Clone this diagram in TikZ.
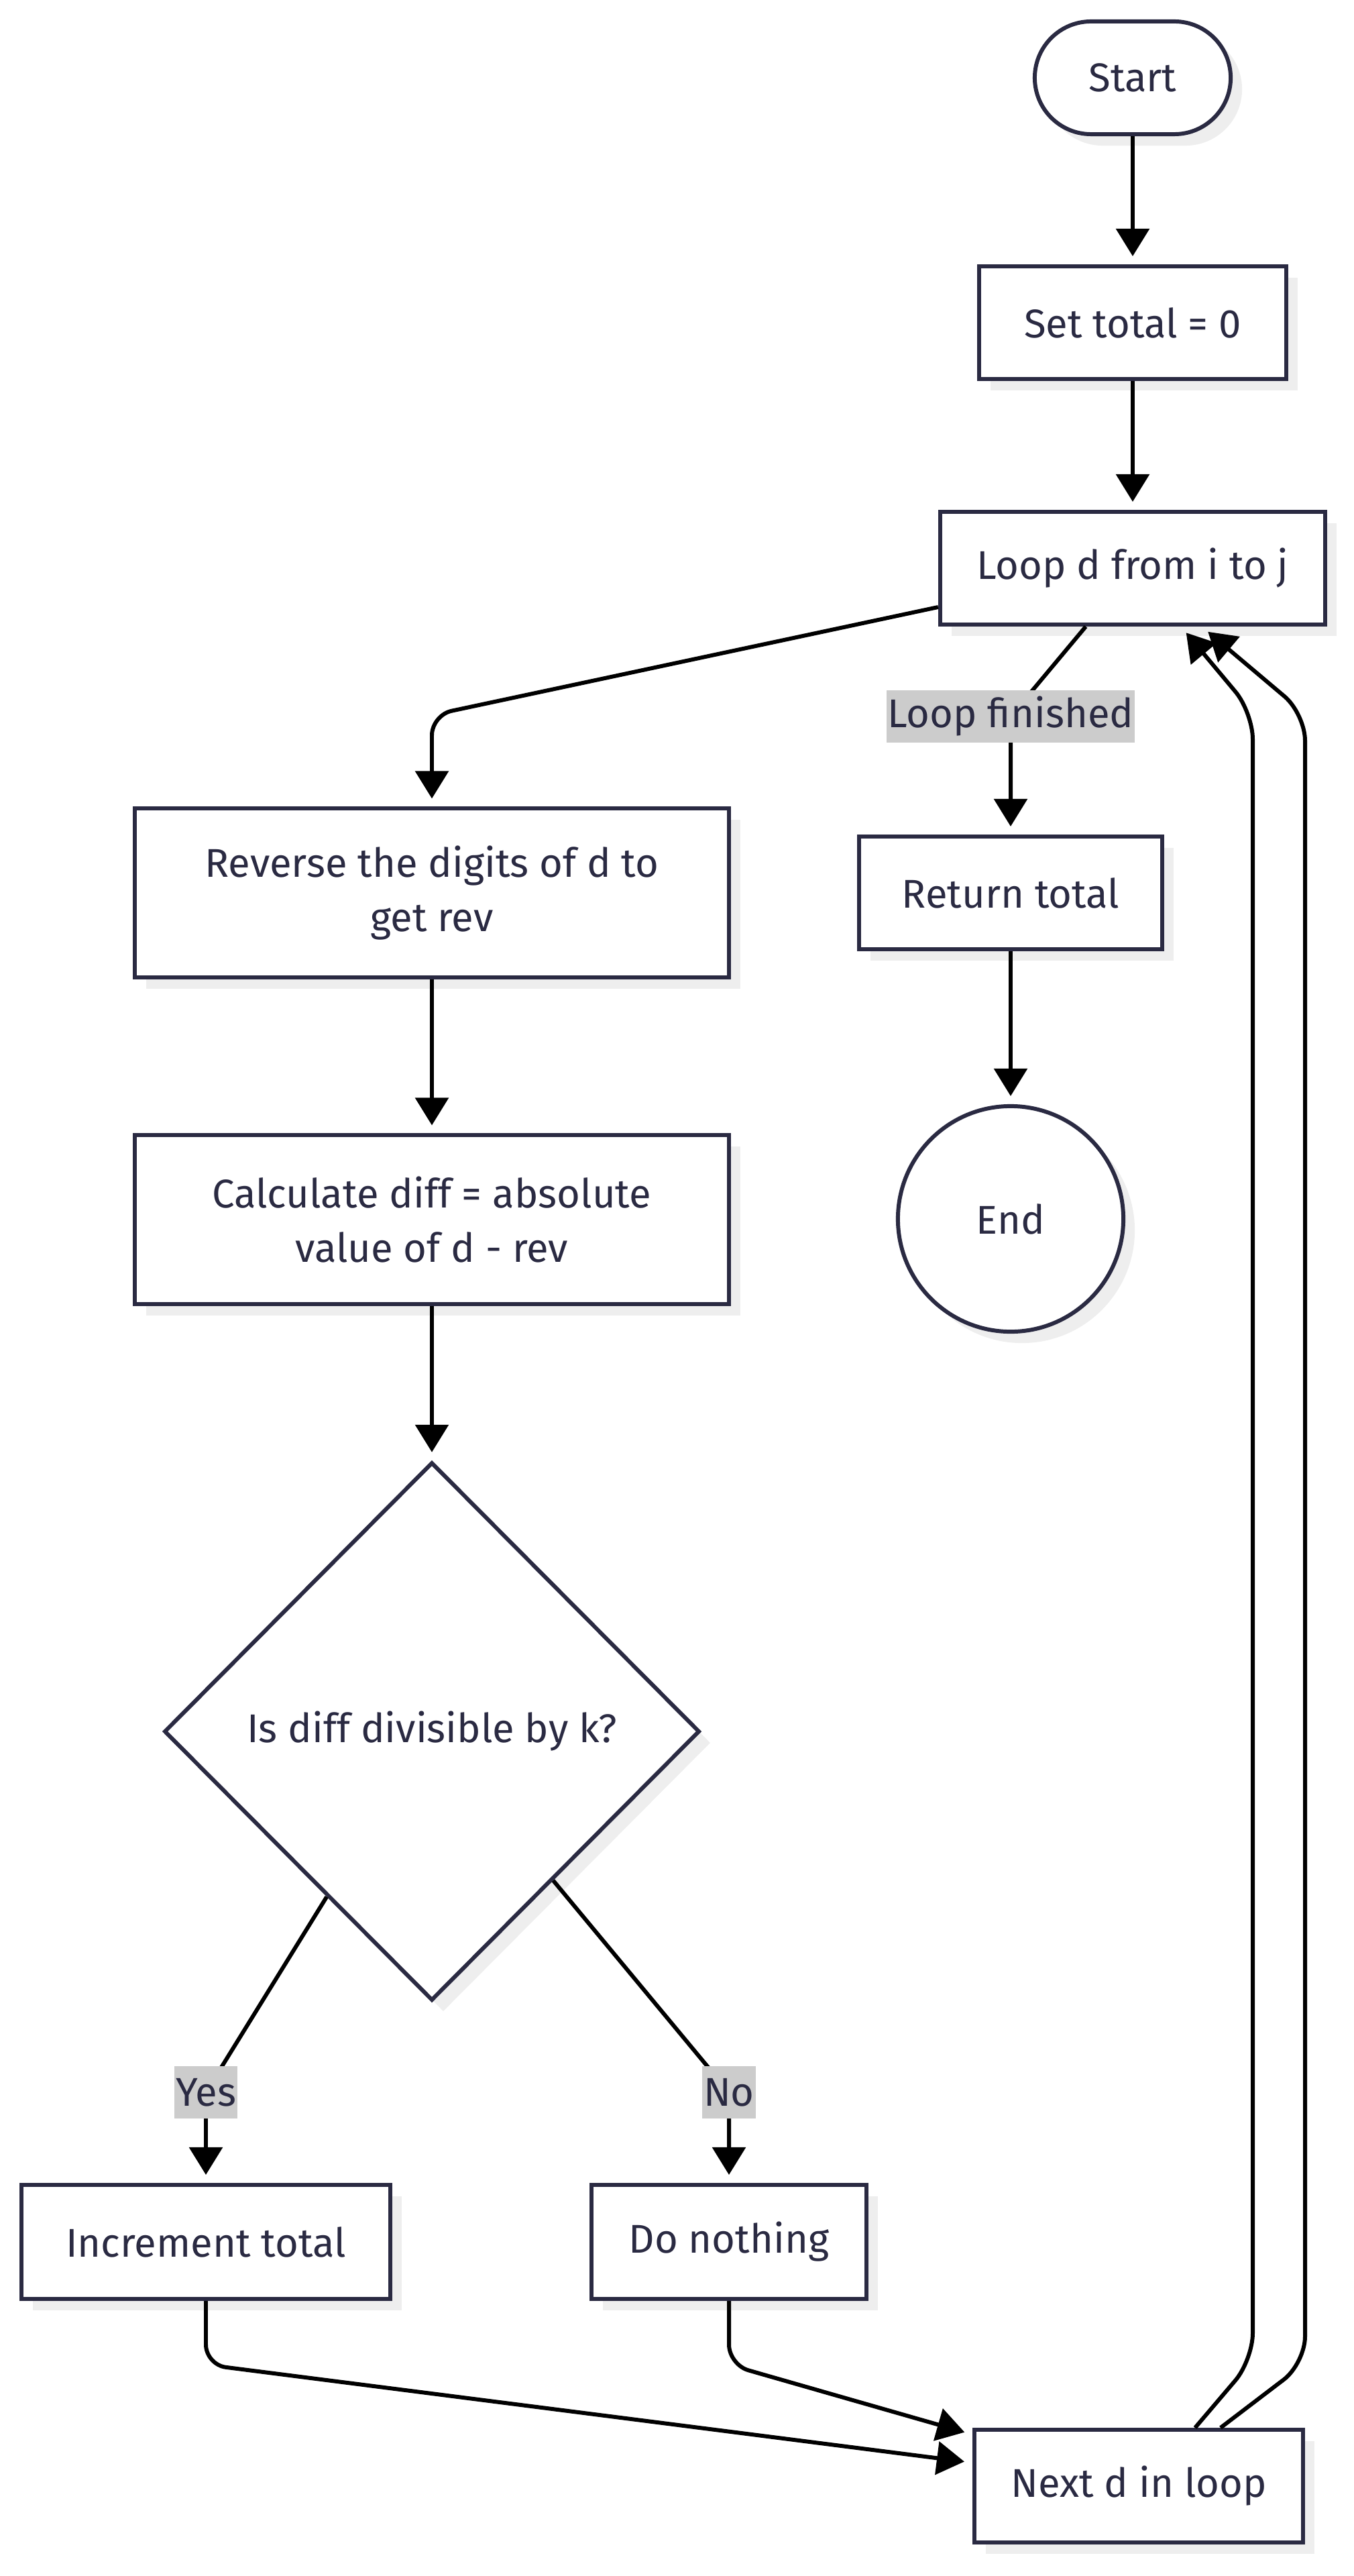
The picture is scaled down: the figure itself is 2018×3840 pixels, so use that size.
\documentclass[tikz,border=0pt]{standalone}
\usepackage{fontspec}
\setmainfont{Fira Sans}
\usetikzlibrary{arrows.meta,shapes.geometric,calc}
\definecolor{ink}{HTML}{2A2A42}
\definecolor{shade}{HTML}{EEEEEE}
\definecolor{lblbg}{HTML}{CCCCCC}
\tikzset{
  shadowed/.style={preaction={draw=none,fill=shade,transform canvas={xshift=0.17cm,yshift=-0.17cm}}},
  box/.style={draw=ink,line width=1.7pt,fill=white,text=ink,inner sep=0pt,align=center,
     font=\fontsize{17}{23}\selectfont,shadowed},
  proc/.style={box,rectangle},
  term/.style={box,rectangle,rounded corners=0.84cm},
  endc/.style={box,circle},
  dec/.style={box,diamond},
  conn/.style={draw=black,line width=1.7pt,-{Triangle[width=0.49cm,length=0.41cm]},shorten >=0.12cm},
  lbl/.style={fill=lblbg,text=ink,font=\fontsize{17}{23}\selectfont,inner xsep=0.5pt,inner ysep=0pt,minimum height=0.78cm,anchor=center},
}
\begin{document}
\begin{tikzpicture}[x=0.01cm,y=-0.01cm]
\useasboundingbox (0,0) rectangle (2018,3840);
% nodes
\node[term,minimum width=2.92cm,minimum height=1.68cm] (start) at (1689,116) {Start};
\node[proc,minimum width=4.57cm,minimum height=1.68cm] (set) at (1689,481) {Set total = 0};
\node[proc,minimum width=5.74cm,minimum height=1.68cm] (loop) at (1689,847) {Loop d from i to j};
\node[proc,minimum width=4.52cm,minimum height=1.68cm] (ret) at (1507,1331) {Return total};
\node[endc,minimum size=3.36cm] (endn) at (1507,1817) {End};
\node[proc,minimum width=8.85cm,minimum height=2.51cm] (rev) at (644,1331) {Reverse the digits of d to\\get rev};
\node[proc,minimum width=8.85cm,minimum height=2.51cm] (calc) at (644,1818) {Calculate diff = absolute\\value of d - rev};
\node[dec,minimum width=7.98cm,minimum height=8.02cm] (dia) at (644,2581) {Is diff divisible by k?};
\node[proc,minimum width=5.49cm,minimum height=1.70cm] (inc) at (307,3342) {Increment total};
\node[proc,minimum width=4.10cm,minimum height=1.70cm] (don) at (1087,3342) {Do nothing};
\node[proc,minimum width=4.90cm,minimum height=1.68cm] (next) at (1698,3706) {Next d in loop};
% connectors
\draw[conn] (start.south) -- (set.north);
\draw[conn] (set.south) -- (loop.north);
\draw[conn,rounded corners=0.3cm] ($(loop.west)+(0,58)$) -- (644,1066) -- (rev.north);
\draw[conn] ($(loop.south)+(-70,0)$) -- (1507,1068) node[lbl] (lf) {Loop finished} -- (ret.north);
\draw[conn] (ret.south) -- (endn.north);
\draw[conn] (rev.south) -- (calc.north);
\draw[conn] (calc.south) -- (dia.north);
\draw[conn] ($(dia.west)!0.61!(dia.south)$) -- (307,3119) node[lbl] (yes) {Yes} -- (inc.north);
\draw[conn] ($(dia.east)!0.55!(dia.south)$) -- (1087,3119) node[lbl] (no) {No} -- (don.north);
\draw[conn,rounded corners=0.3cm] (inc.south) -- (307,3525) -- ($(next.north west)+(0,52)$);
\draw[conn,rounded corners=0.3cm] (don.south) -- (1087,3525) -- ($(next.north west)+(0,10)$);
\draw[conn,rounded corners=0.4cm] ($(next.north)+(84,0)$) -- (1868,3518) -- (1868,1062) -- ($(loop.south)+(72,0)$);
\draw[conn,rounded corners=0.4cm] ($(next.north)+(122,0)$) -- (1946,3523) -- (1946,1064) -- ($(loop.south)+(103,0)$);
\end{tikzpicture}
\end{document}
